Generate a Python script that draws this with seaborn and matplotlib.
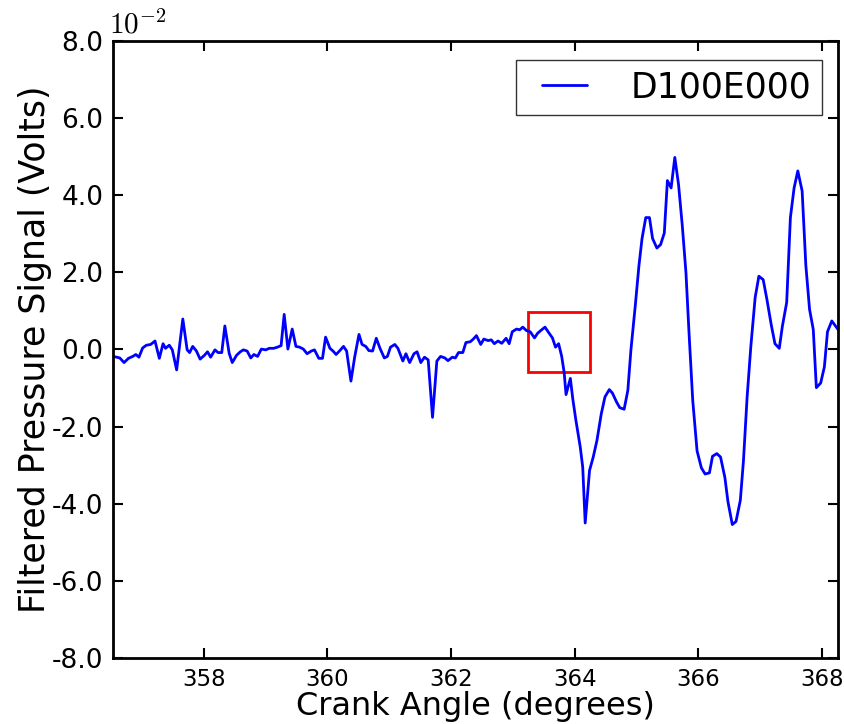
import numpy as np
import pandas as pd
import matplotlib
matplotlib.use("Agg")
import matplotlib.pyplot as plt
import seaborn as sns
from matplotlib.patches import Rectangle
from matplotlib.legend_handler import HandlerLine2D
from matplotlib.lines import Line2D
from matplotlib.ticker import FormatStrFormatter, MultipleLocator

# crank angle (degrees)
crank_angle = [
    356.53, 356.59, 356.64, 356.71, 356.78, 356.85, 356.90, 356.95, 357.01, 357.07,
    357.14, 357.21, 357.28, 357.34, 357.38, 357.44, 357.49, 357.56, 357.66, 357.73,
    357.77, 357.82, 357.88, 357.94, 358.01, 358.06, 358.11, 358.18, 358.23, 358.29,
    358.34, 358.41, 358.46, 358.53, 358.59, 358.64, 358.70, 358.76, 358.81, 358.87,
    358.93, 359.00, 359.06, 359.13, 359.19, 359.25, 359.30, 359.36, 359.43, 359.49,
    359.55, 359.61, 359.67, 359.74, 359.79, 359.86, 359.92, 359.97, 360.04, 360.09,
    360.14, 360.20, 360.26, 360.31, 360.38, 360.44, 360.51, 360.56, 360.62, 360.67,
    360.73, 360.79, 360.85, 360.92, 360.97, 361.02, 361.09, 361.14, 361.22, 361.27,
    361.33, 361.40, 361.45, 361.51, 361.57, 361.63, 361.70, 361.77, 361.83, 361.90,
    361.95, 362.02, 362.07, 362.12, 362.19, 362.24, 362.31, 362.36, 362.41, 362.48,
    362.53, 362.60, 362.65, 362.70, 362.76, 362.82, 362.89, 362.94, 362.99, 363.06,
    363.11, 363.16, 363.22, 363.28, 363.35, 363.40, 363.45, 363.52, 363.57, 363.64,
    363.69, 363.74, 363.79, 363.83, 363.86, 363.93, 363.97, 364.02, 364.09, 364.13,
    364.17, 364.24, 364.30, 364.36, 364.43, 364.49, 364.56, 364.61, 364.68, 364.73,
    364.80, 364.86, 364.91, 364.98, 365.04, 365.09, 365.15, 365.21, 365.26, 365.33,
    365.39, 365.45, 365.50, 365.56, 365.62, 365.68, 365.74, 365.80, 365.85, 365.91,
    365.98, 366.05, 366.11, 366.18, 366.23, 366.30, 366.36, 366.43, 366.48, 366.55,
    366.61, 366.68, 366.73, 366.79, 366.85, 366.92, 366.98, 367.05, 367.11, 367.18,
    367.24, 367.31, 367.36, 367.43, 367.49, 367.55, 367.61, 367.68, 367.74, 367.80,
    367.86, 367.91, 367.98, 368.04, 368.09, 368.16, 368.26,
]

# filtered pressure signal, in units of 1e-2 volts
signal = [
    -0.18, -0.20, -0.22, -0.34, -0.23, -0.18, -0.13, -0.20, 0.04, 0.11,
    0.13, 0.22, -0.23, 0.15, 0.03, 0.11, -0.01, -0.53, 0.79, -0.01,
    -0.08, 0.08, -0.04, -0.25, -0.15, -0.06, -0.20, -0.01, -0.08, -0.08,
    0.61, -0.10, -0.34, -0.15, -0.06, -0.01, -0.04, -0.22, -0.13, -0.18,
    0.01, -0.01, 0.03, 0.03, 0.06, 0.10, 0.91, 0.01, 0.53, 0.08,
    0.06, 0.01, -0.11, -0.04, -0.01, -0.23, -0.23, 0.32, 0.03, -0.04,
    -0.13, -0.03, 0.08, -0.04, -0.82, -0.20, 0.39, 0.13, 0.08, -0.03,
    -0.04, 0.29, 0.03, -0.22, -0.18, 0.06, 0.13, 0.03, -0.30, -0.11,
    -0.34, -0.11, -0.06, -0.34, -0.20, -0.27, -1.76, -0.30, -0.18, -0.22,
    -0.29, -0.20, -0.22, -0.08, -0.08, 0.18, 0.20, 0.27, 0.36, 0.13,
    0.27, 0.23, 0.25, 0.15, 0.22, 0.16, 0.29, 0.15, 0.46, 0.53,
    0.51, 0.58, 0.49, 0.46, 0.30, 0.42, 0.49, 0.58, 0.46, 0.30,
    0.06, 0.15, -0.18, -0.60, -1.17, -0.75, -1.29, -1.84, -2.53, -3.05,
    -4.50, -3.14, -2.79, -2.36, -1.67, -1.23, -1.04, -1.13, -1.37, -1.51,
    -1.55, -1.06, -0.01, 1.13, 2.18, 2.88, 3.42, 3.42, 2.88, 2.63,
    2.72, 3.02, 4.38, 4.19, 4.98, 4.28, 3.23, 2.00, 0.43, -1.32,
    -2.63, -3.07, -3.23, -3.20, -2.77, -2.70, -2.79, -3.32, -3.95, -4.54,
    -4.46, -3.91, -2.90, -1.23, 0.08, 1.35, 1.90, 1.81, 1.30, 0.64,
    0.15, 0.03, 0.60, 1.22, 3.42, 4.19, 4.63, 4.11, 2.18, 1.04,
    0.52, -0.99, -0.87, -0.45, 0.46, 0.74, 0.52,
]

# highlighted window
box_angle = [363.25, 364.24]
box_signal = [-0.58, 0.98]

sns.set_style("ticks")
plt.rcParams["font.family"] = ["DejaVu Sans"]
plt.rcParams["mathtext.fontset"] = "cm"
plt.rcParams["axes.unicode_minus"] = False
plt.rcParams["text.color"] = "black"
plt.rcParams["axes.labelcolor"] = "black"
plt.rcParams["xtick.color"] = "black"
plt.rcParams["ytick.color"] = "black"

df = pd.DataFrame({"angle": crank_angle, "signal": signal})

fig = plt.figure(figsize=(8.45, 7.24), dpi=100)
ax = fig.add_axes([0.1337, 0.0912, 0.8580, 0.8522])

sns.lineplot(data=df, x="angle", y="signal", ax=ax, color="blue", linewidth=2,
             label="D100E000", sort=False)

ax.add_patch(Rectangle((box_angle[0], box_signal[0]), box_angle[1] - box_angle[0],
                       box_signal[1] - box_signal[0], fill=False, edgecolor="red", lw=2))

ax.set_xlim(crank_angle[0], crank_angle[-1])
ax.set_ylim(-8, 8)
ax.xaxis.set_major_locator(MultipleLocator(2))
ax.yaxis.set_major_locator(MultipleLocator(2))
ax.yaxis.set_major_formatter(FormatStrFormatter("%.1f"))
ax.tick_params(direction="in", length=7, width=1.5, labelsize=16.5, top=True, right=True, pad=7,
               colors="black")
ax.tick_params(axis="y", labelsize=19)
for sp in ax.spines.values():
    sp.set_linewidth(2)
    sp.set_color("black")

ax.text(-0.005, 1.003, r"$10^{-2}$", transform=ax.transAxes, fontsize=21, ha="left", va="bottom")

ax.set_xlabel("Crank Angle (degrees)", fontsize=23, labelpad=0)
ax.set_ylabel("Filtered Pressure Signal (Volts)", fontsize=25, labelpad=0)

leg = ax.legend(loc="upper right", bbox_to_anchor=(822 / 845, 1 - 60 / 724),
                bbox_transform=fig.transFigure, borderaxespad=0, fontsize=25,
                frameon=True, fancybox=False, handlelength=1.75, handletextpad=1.25,
                borderpad=0.3, handler_map={Line2D: HandlerLine2D(xpad=0.45)})
leg.get_frame().set_edgecolor("black")
leg.get_frame().set_linewidth(1)
for h in leg.get_lines():
    h.set_linewidth(2)

fig.savefig("out.png", dpi=100)
